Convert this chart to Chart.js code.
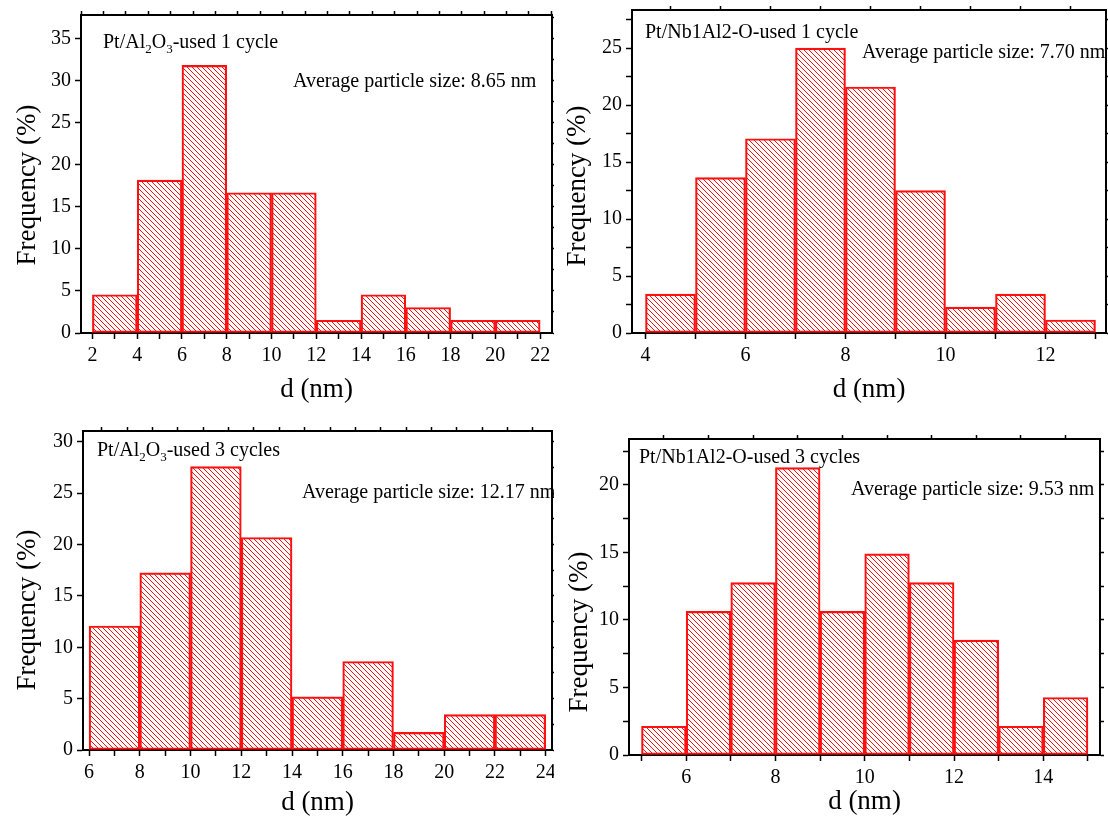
<!DOCTYPE html>
<html>
<head>
<meta charset="utf-8">
<title>Particle size distributions</title>
<script src="https://cdn.jsdelivr.net/npm/chart.js@4.4.0/dist/chart.umd.min.js"></script>
<style>
  body { margin: 0; background: #fff; width: 1108px; height: 818px; position: relative; overflow: hidden; }
  canvas { position: absolute; }
</style>
</head>
<body>
<canvas id="c1" width="554" height="410" style="left:0;top:0"></canvas>
<canvas id="c2" width="554" height="410" style="left:554px;top:0"></canvas>
<canvas id="c3" width="554" height="408" style="left:0;top:410px"></canvas>
<canvas id="c4" width="554" height="408" style="left:554px;top:410px"></canvas>
<script>
// bin lower edges (nm) and frequency (%) for each sample
const binsA1 = [2, 4, 6, 8, 10, 12, 14, 16, 18, 20];
const freqA1 = [4.55, 18.18, 31.82, 16.67, 16.67, 1.52, 4.55, 3.03, 1.52, 1.52];

const binsN1 = [4, 5, 6, 7, 8, 9, 10, 11, 12];
const freqN1 = [3.41, 13.64, 17.05, 25.0, 21.59, 12.5, 2.27, 3.41, 1.14];

const binsA3 = [6, 8, 10, 12, 14, 16, 18, 20, 22];
const freqA3 = [12.07, 17.24, 27.59, 20.69, 5.17, 8.62, 1.72, 3.45, 3.45];

const binsN3 = [5, 6, 7, 8, 9, 10, 11, 12, 13, 14];
const freqN3 = [2.13, 10.64, 12.77, 21.28, 10.64, 14.89, 12.77, 8.51, 2.13, 4.26];

// labelled tick values
const xLabelsA1 = [2, 4, 6, 8, 10, 12, 14, 16, 18, 20, 22];
const xLabelsN1 = [4, 6, 8, 10, 12];
const xLabelsA3 = [6, 8, 10, 12, 14, 16, 18, 20, 22, 24];
const xLabelsN3 = [6, 8, 10, 12, 14];
const yLabelsA1 = [0, 5, 10, 15, 20, 25, 30, 35];
const yLabelsN1 = [0, 5, 10, 15, 20, 25];
const yLabelsA3 = [0, 5, 10, 15, 20, 25, 30];
const yLabelsN3 = [0, 5, 10, 15, 20];

const SERIF = '"Liberation Serif", "Times New Roman", serif';
const RED = '#ff1010';

// red "\\\\" hatching used for every bar
function makeHatch() {
  const n = 5;
  const t = document.createElement('canvas');
  t.width = n; t.height = n;
  const g = t.getContext('2d');
  g.strokeStyle = RED;
  g.lineWidth = 1;
  g.beginPath();
  g.moveTo(-1, -1); g.lineTo(n + 1, n + 1);
  g.moveTo(-1, n - 1); g.lineTo(1, n + 1);
  g.moveTo(n - 1, -1); g.lineTo(n + 1, 1);
  g.stroke();
  return g.createPattern(t, 'repeat');
}

// free text: notes inside the frame (with subscripts) and the rotated y title
const notesPlugin = {
  id: 'notes',
  afterDraw(chart, args, opts) {
    const ctx = chart.ctx;
    const a = chart.chartArea;
    ctx.save();
    ctx.fillStyle = '#000';
    ctx.textBaseline = 'alphabetic';
    ctx.textAlign = 'left';
    for (const note of opts.items || []) {
      let x = a.left + note.dx;
      for (const [txt, sub] of note.parts) {
        ctx.font = (sub ? '13px ' : '20px ') + SERIF;
        ctx.fillText(txt, x, a.top + note.dy + (sub ? 5 : 0));
        x += ctx.measureText(txt).width;
      }
    }
    if (opts.yTitle) {
      const t = opts.yTitle;
      ctx.translate(t.x, t.y);
      ctx.rotate(-Math.PI / 2);
      ctx.textAlign = 'center';
      ctx.textBaseline = 'middle';
      ctx.font = '27px ' + SERIF;
      ctx.fillText(t.text, 0, 0);
    }
    ctx.restore();
  }
};

function isIn(list, v) {
  return list.some(l => Math.abs(l - v) < 1e-6);
}

function panel(id, p) {
  const hatch = makeHatch();
  const data = p.bins.map((b, i) => ({ x: b + p.width / 2, y: p.freq[i] }));
  const frame = { display: true, color: '#000', width: 2 };
  const tickGrid = len => ({
    drawOnChartArea: false, drawTicks: true, tickLength: len,
    color: '#000', tickColor: '#000', tickWidth: 1.5
  });
  new Chart(document.getElementById(id), {
    type: 'bar',
    data: {
      datasets: [{
        data: data,
        backgroundColor: hatch,
        borderColor: RED,
        borderWidth: 1.5,
        borderSkipped: false,
        barThickness: 'flex',
        barPercentage: 1,
        categoryPercentage: 1
      }]
    },
    options: {
      responsive: false,
      animation: false,
      layout: { padding: p.pad },
      plugins: {
        legend: { display: false },
        tooltip: { enabled: false },
        notes: {
          items: p.notes,
          yTitle: { text: 'Frequency (%)', x: p.yTitle[0], y: p.yTitle[1] }
        }
      },
      scales: {
        x: {
          type: 'linear', position: 'bottom', offset: false,
          min: p.xMin, max: p.xMax,
          border: frame,
          grid: Object.assign(tickGrid(6), { offset: false }),
          ticks: {
            stepSize: p.xMinor, includeBounds: false, autoSkip: false, maxRotation: 0,
            padding: 5, color: '#000', font: { family: SERIF, size: 20 },
            callback: v => isIn(p.xLabels, v) ? String(v) : ''
          },
          title: {
            display: true, text: 'd (nm)', color: '#000',
            font: { family: SERIF, size: 27 }, padding: { top: 0, bottom: p.xTitlePad }
          },
          afterFit: s => { s.height = p.xH; s.paddingLeft = 0; s.paddingRight = 0; }
        },
        y: {
          type: 'linear', position: 'left',
          min: 0, max: p.yMax,
          border: frame,
          grid: tickGrid(6),
          ticks: {
            stepSize: 2.5, includeBounds: false, padding: 4, color: '#000',
            font: { family: SERIF, size: 20 },
            callback: v => isIn(p.yLabels, v) ? String(v) : ''
          },
          afterFit: s => { s.width = p.yW; s.paddingTop = 0; s.paddingBottom = 0; }
        },
        x2: {
          type: 'linear', position: 'top', offset: false,
          min: p.xMin, max: p.xMax,
          border: frame,
          grid: tickGrid(4),
          ticks: { display: false, stepSize: p.xMinor, includeBounds: false, autoSkip: false },
          afterFit: s => { s.height = 0; s.paddingLeft = 0; s.paddingRight = 0; }
        },
        y2: {
          type: 'linear', position: 'right',
          min: 0, max: p.yMax,
          border: frame,
          grid: tickGrid(4),
          ticks: { display: false, stepSize: 2.5, includeBounds: false },
          afterFit: s => { s.width = 0; s.paddingTop = 0; s.paddingBottom = 0; }
        }
      }
    },
    plugins: [notesPlugin]
  });
}

panel('c1', {
  bins: binsA1, freq: freqA1, width: 2,
  xMin: 1.49, xMax: 22.53, xMinor: 1, xLabels: xLabelsA1,
  yMax: 37.8, yLabels: yLabelsA1,
  pad: { left: 0, top: 15, right: 2, bottom: 0 },
  yW: 81, xH: 77, yTitle: [28, 185], xTitlePad: 3.8,
  notes: [
    { dx: 22, dy: 33, parts: [['Pt/Al', 0], ['2', 1], ['O', 0], ['3', 1], ['-used 1 cycle', 0]] },
    { dx: 212, dy: 72, parts: [['Average particle size: 8.65 nm', 0]] }
  ]
});

panel('c2', {
  bins: binsN1, freq: freqN1, width: 1,
  xMin: 3.73, xMax: 13.21, xMinor: 1, xLabels: xLabelsN1,
  yMax: 28.35, yLabels: yLabelsN1,
  pad: { left: 0, top: 10, right: 2, bottom: 0 },
  yW: 78, xH: 77, yTitle: [24, 186], xTitlePad: 3.8,
  notes: [
    { dx: 13, dy: 28, parts: [['Pt/Nb1Al2-O-used 1 cycle', 0]] },
    { dx: 230, dy: 48, parts: [['Average particle size: 7.70 nm', 0]] }
  ]
});

panel('c3', {
  bins: binsA3, freq: freqA3, width: 2,
  xMin: 5.76, xMax: 24.25, xMinor: 1, xLabels: xLabelsA3,
  yMax: 31.06, yLabels: yLabelsA3,
  pad: { left: 0, top: 21, right: 2, bottom: 0 },
  yW: 83, xH: 68, yTitle: [28, 200], xTitlePad: -1,
  notes: [
    { dx: 14, dy: 25, parts: [['Pt/Al', 0], ['2', 1], ['O', 0], ['3', 1], ['-used 3 cycles', 0]] },
    { dx: 219, dy: 67, parts: [['Average particle size: 12.17 nm', 0]] }
  ]
});

panel('c4', {
  bins: binsN3, freq: freqN3, width: 1,
  xMin: 4.72, xMax: 15.27, xMinor: 1, xLabels: xLabelsN3,
  yMax: 23.4, yLabels: yLabelsN3,
  pad: { left: 0, top: 29, right: 8, bottom: 0 },
  yW: 75, xH: 63, yTitle: [26, 222], xTitlePad: 0,
  notes: [
    { dx: 10, dy: 24, parts: [['Pt/Nb1Al2-O-used 3 cycles', 0]] },
    { dx: 222, dy: 56, parts: [['Average particle size: 9.53 nm', 0]] }
  ]
});
</script>
</body>
</html>
